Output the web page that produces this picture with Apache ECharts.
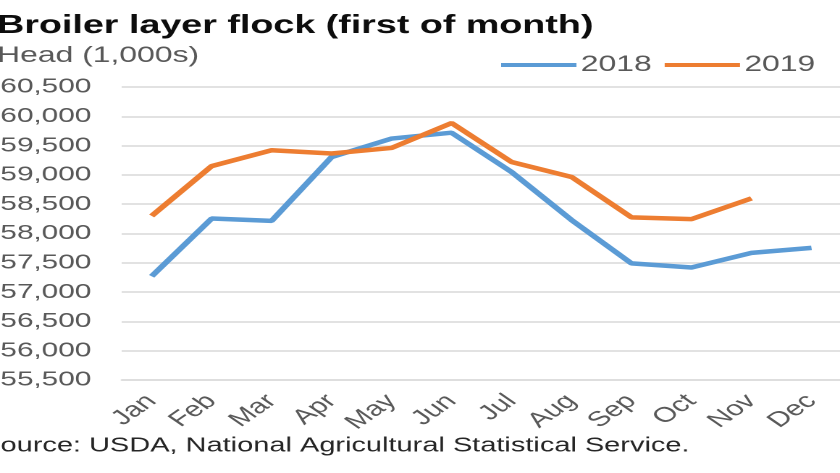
<!DOCTYPE html>
<html>
<head>
<meta charset="utf-8">
<script src="https://cdn.jsdelivr.net/npm/echarts@6/dist/echarts.min.js"></script>
<style>
  html, body { margin: 0; padding: 0; background: #fff; width: 840px; height: 473px; overflow: hidden; }
  /* the source picture is stretched sideways, so the chart is drawn narrow and widened */
  #chart { width: 582px; height: 473px; transform: scaleX(1.4483); transform-origin: 0 0; }
</style>
</head>
<body>
<div id="chart"></div>
<script>
var months = ['Jan', 'Feb', 'Mar', 'Apr', 'May', 'Jun', 'Jul', 'Aug', 'Sep', 'Oct', 'Nov', 'Dec'];
var flock2018 = [57270, 58255, 58215, 59305, 59620, 59720, 59050, 58230, 57490, 57420, 57670, 57755];
var flock2019 = [58300, 59150, 59420, 59365, 59460, 59885, 59220, 58965, 58275, 58245, 58600];
var yMin = 55500, yMax = 60500, yStep = 500;

var font = 'Liberation Sans, Arial, sans-serif';
var grey = '#595959';

var chart = echarts.init(document.getElementById('chart'), null, { renderer: 'canvas', devicePixelRatio: 2 });
chart.setOption({
  animation: false,
  backgroundColor: '#fff',
  title: [
    { text: 'Broiler layer flock (first of month)', left: -2, top: 13, padding: 0,
      textStyle: { fontFamily: font, fontSize: 26, fontWeight: 'bold', color: '#0d0d0d' } },
    { text: 'Head (1,000s)', left: -2, top: 45, padding: 0,
      textStyle: { fontFamily: font, fontSize: 22, fontWeight: 'normal', color: grey } },
    { text: 'Source: USDA, National Agricultural Statistical Service.', left: -13, top: 436, padding: 0,
      textStyle: { fontFamily: font, fontSize: 20, fontWeight: 'normal', color: '#262626' } }
  ],
  legend: {
    left: 346, top: 54, padding: 0,
    icon: 'rect', itemWidth: 52, itemHeight: 4, itemGap: 9,
    textStyle: { fontFamily: font, fontSize: 22, color: grey, padding: [0, 0, 0, -2] },
    data: ['2018', '2019']
  },
  grid: { left: 84, right: 1, top: 87, bottom: 93, containLabel: false, outerBoundsMode: 'none' },
  xAxis: {
    type: 'category',
    data: months,
    boundaryGap: true,
    axisLine: { show: true, lineStyle: { color: '#d9d9d9', width: 1.5 } },
    axisTick: { show: false },
    axisLabel: { rotate: 45, margin: 18, fontFamily: font, fontSize: 21, color: grey, interval: 0 }
  },
  yAxis: {
    type: 'value',
    min: yMin, max: yMax, interval: yStep,
    axisLine: { show: false },
    axisTick: { show: false },
    splitLine: { lineStyle: { color: '#d9d9d9', width: 1.5 } },
    axisLabel: {
      margin: 21, fontFamily: font, fontSize: 20.5, color: grey,
      formatter: function(v) { return v.toLocaleString('en-US'); }
    }
  },
  series: [
    { name: '2018', type: 'line', data: flock2018, showSymbol: false,
      lineStyle: { width: 4.5, color: '#5b9bd5' }, itemStyle: { color: '#5b9bd5' } },
    { name: '2019', type: 'line', data: flock2019, showSymbol: false,
      lineStyle: { width: 4.5, color: '#ed7d31' }, itemStyle: { color: '#ed7d31' } }
  ]
});
</script>
</body>
</html>
